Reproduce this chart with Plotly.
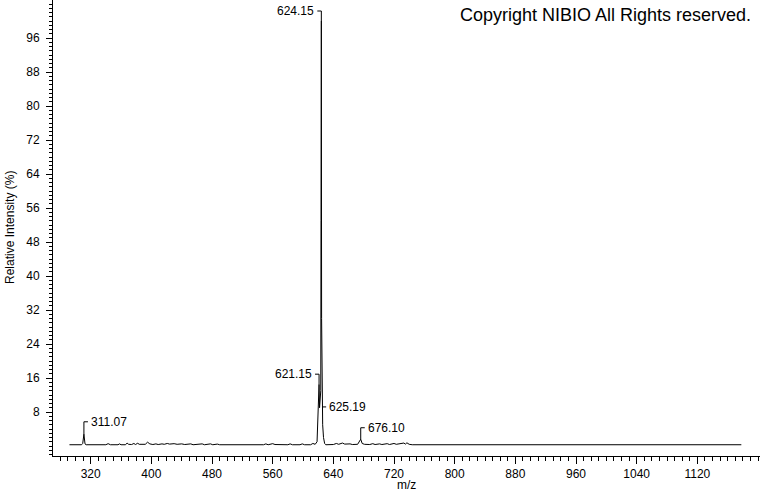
import plotly.graph_objects as go

# ---- spectrum data (m/z, relative intensity %) ----
mz = [292, 308, 309.5, 311.07, 312.5, 314, 340, 343, 346, 356, 358, 360, 366, 368, 370,
      374, 377, 379, 382, 384, 392, 395, 398, 402, 406, 409, 414, 417, 421, 424, 430,
      434, 440, 444, 452, 455, 467, 470, 478, 481, 487, 490, 548, 551, 554, 560, 563,
      580, 583, 586, 596, 599, 602, 610, 613, 616, 618.5, 619.8, 620.6, 621.15, 621.8,
      622.6, 623.4, 623.7, 624.15, 624.5, 625.19, 625.9, 627, 628.5, 630, 640, 644, 647,
      652, 655, 662, 665, 672, 676.1, 678, 681, 688, 692, 695, 701, 704, 711, 714, 720,
      723, 730, 733, 735, 737, 740, 744, 1178]
intensity = [0.3, 0.3, 0.6, 2.8, 0.5, 0.3, 0.3, 0.55, 0.3, 0.3, 0.5, 0.3, 0.3, 0.7, 0.4,
             0.35, 0.6, 0.35, 0.65, 0.4, 0.4, 0.9, 0.5, 0.35, 0.5, 0.35, 0.5, 0.4, 0.6, 0.45, 0.55,
             0.4, 0.5, 0.35, 0.5, 0.3, 0.5, 0.3, 0.5, 0.3, 0.45, 0.3, 0.3, 0.5, 0.3, 0.55, 0.35,
             0.3, 0.5, 0.3, 0.3, 0.5, 0.3, 0.3, 0.6, 0.4, 1.0, 6, 12, 14.5, 9,
             11, 13, 53, 100, 30, 9.3, 5, 2, 0.6, 0.3, 0.35, 0.6, 0.4,
             0.7, 0.45, 0.5, 0.35, 0.4, 1.6, 0.6, 0.4, 0.35, 0.55, 0.35, 0.5, 0.35, 0.55, 0.35, 0.6,
             0.4, 0.5, 0.7, 0.45, 0.75, 0.4, 0.3, 0.3]

# ---- peak labels ----
label_mz = [311.07, 621.15, 624.15, 625.19, 676.10]
label_text = ["311.07", "621.15", "624.15", "625.19", "676.10"]
label_level = [5.7, 16.9, 102.35, 9.2, 4.3]
label_side = ["right", "left", "left", "right", "right"]

x_ticks = [320, 400, 480, 560, 640, 720, 800, 880, 960, 1040, 1120]
y_ticks = [8, 16, 24, 32, 40, 48, 56, 64, 72, 80, 88, 96]

FONT = "Liberation Sans, Arial, sans-serif"

fig = go.Figure()
fig.add_trace(go.Scatter(x=mz, y=intensity, mode="lines",
                         line=dict(color="black", width=1), hoverinfo="skip",
                         showlegend=False))

bracket_len = 5.3  # m/z units (~4 px)
shapes = []
annotations = []
for m, t, lvl, side in zip(label_mz, label_text, label_level, label_side):
    top = intensity[mz.index(m)] if m in mz else lvl
    if side == "right":
        if lvl > top + 0.3:
            shapes.append(dict(type="line", xref="x", yref="y", x0=m, x1=m, y0=top, y1=lvl,
                               line=dict(color="black", width=1)))
        shapes.append(dict(type="line", xref="x", yref="y", x0=m, x1=m + bracket_len,
                           y0=lvl, y1=lvl, line=dict(color="black", width=1)))
        annotations.append(dict(x=m + bracket_len, y=lvl, xref="x", yref="y", text=t,
                                showarrow=False, xanchor="left", yanchor="middle", xshift=1,
                                font=dict(family=FONT, size=12, color="black")))
    else:
        shapes.append(dict(type="line", xref="x", yref="y", x0=m, x1=m, y0=top, y1=lvl,
                           line=dict(color="black", width=1)))
        shapes.append(dict(type="line", xref="x", yref="y", x0=m - bracket_len, x1=m,
                           y0=lvl, y1=lvl, line=dict(color="black", width=1)))
        annotations.append(dict(x=m - bracket_len, y=lvl, xref="x", yref="y", text=t,
                                showarrow=False, xanchor="right", yanchor="middle", xshift=-1,
                                font=dict(family=FONT, size=12, color="black")))

annotations.append(dict(x=1, y=1, xref="paper", yref="paper", text="Copyright NIBIO All Rights reserved.",
                        showarrow=False, xanchor="right", yanchor="top", xshift=-7, yshift=-3,
                        font=dict(family=FONT, size=18, color="black")))
annotations.append(dict(x=0.5, y=0, xref="paper", yref="paper", text="m/z",
                        showarrow=False, xanchor="center", yanchor="top", yshift=-20,
                        font=dict(family=FONT, size=12, color="black")))
annotations.append(dict(x=0, y=0.5, xref="paper", yref="paper", text="Relative Intensity (%)",
                        showarrow=False, xanchor="center", yanchor="middle", xshift=-43,
                        textangle=-90, font=dict(family=FONT, size=12, color="black")))

fig.update_layout(
    width=760, height=492,
    margin=dict(l=53, r=0, t=0, b=36, autoexpand=False),
    paper_bgcolor="white", plot_bgcolor="white",
    shapes=shapes, annotations=annotations,
    font=dict(family=FONT, size=12, color="black"),
    xaxis=dict(range=[270.3, 1202.6], showgrid=False, zeroline=False, automargin=False,
               showline=True, linecolor="black", linewidth=1,
               tickmode="array", tickvals=x_ticks, ticks="outside", ticklen=7,
               tickcolor="black", tickwidth=1,
               minor=dict(tickmode="linear", tick0=0, dtick=10, ticks="outside",
                          ticklen=4, tickcolor="black", tickwidth=1, showgrid=False),
               tickfont=dict(family=FONT, size=12, color="black")),
    yaxis=dict(range=[-2.35, 104.94], showgrid=False, zeroline=False, automargin=False,
               showline=True, linecolor="black", linewidth=1,
               tickmode="array", tickvals=y_ticks, ticks="outside", ticklen=6,
               tickcolor="black", tickwidth=1, ticklabelstandoff=4,
               minor=dict(tickmode="linear", tick0=0, dtick=1, ticks="outside",
                          ticklen=3, tickcolor="black", tickwidth=1, showgrid=False),
               tickfont=dict(family=FONT, size=12, color="black")),
)

fig.write_html("out.html", config={"displayModeBar": False},
               post_script="document.body.style.margin='0';document.body.style.overflow='hidden';")
